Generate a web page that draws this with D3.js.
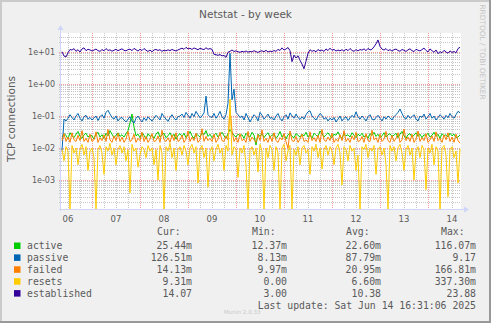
<!DOCTYPE html>
<html>
<head>
<meta charset="utf-8">
<script src="https://cdn.jsdelivr.net/npm/d3@7/dist/d3.min.js"></script>
<style>
  html, body { margin: 0; padding: 0; background: #F0F0F0; }
  svg { display: block; }
</style>
</head>
<body>
<svg id="chart" width="491" height="323"></svg>
<script>
// Netstat weekly graph: TCP connection rates, hourly samples (connections/s).
// Small series are stored in milli-units (as shown in the legend), established in plain units.

const seriesNames = ["active", "passive", "failed", "resets", "established"];
const seriesColors = ["#00CC00", "#0066B3", "#FF8000", "#FFCC00", "#330099"];

const activeMilli = [
  22, 28, 25, 19, 30, 24, 21, 27, 33, 23, 20, 26, 29, 22, 25,
  24, 19, 28, 31, 22, 26, 20, 29, 24, 35, 27, 21, 25, 30, 23,
  26, 22, 28, 35, 60, 116.07, 45, 24, 27, 21, 30, 25, 19, 28, 23,
  25, 20, 27, 32, 22, 26, 29, 21, 24, 30, 22, 27, 19, 25, 28,
  23, 29, 21, 26, 33, 24, 20, 28, 25, 22, 30, 26, 35, 23, 27,
  21, 25, 29, 22, 26, 31, 24, 20, 28, 38, 30, 25, 22, 27, 24,
  26, 20, 29, 24, 22, 31, 25, 12.37, 27, 23, 28, 21, 26, 30, 22,
  25, 28, 20, 24, 33, 22, 27, 19, 26, 29, 23, 21, 28, 25, 22,
  27, 24, 31, 22, 26, 20, 29, 25, 23, 34, 28, 22, 26, 30, 24,
  21, 27, 25, 32, 23, 20, 28, 24, 26, 22, 30, 25, 21, 27, 24,
  29, 22, 26, 20, 28, 25, 31, 23, 27, 21, 24, 30, 22, 26, 28,
  23, 25, 29, 21, 27, 33, 24, 20, 26, 28, 22, 25, 30, 23, 27,
  21, 26, 24, 29, 22, 25, 31, 23, 27, 20, 28, 24, 26, 22, 29,
  24, 27, 21, 22, 25.44
];

const passiveMilli = [
  8.13, 80, 70, 85, 110, 90, 75, 100, 120, 85, 70, 95, 105, 80, 90,
  75, 88, 100, 72, 95, 110, 85, 130, 150, 115, 90, 80, 100, 70, 85,
  90, 75, 65, 80, 95, 70, 60, 85, 100, 78, 65, 88, 72, 95, 80,
  70, 85, 105, 90, 75, 120, 95, 80, 68, 90, 110, 85, 75, 95, 100,
  115, 90, 130, 105, 85, 120, 95, 140, 110, 88, 100, 125, 420, 110, 95,
  90, 120, 85, 105, 140, 95, 80, 110, 250, 9170, 320, 690, 130, 110, 90,
  100, 75, 120, 90, 65, 85, 110, 95, 70, 130, 105, 80, 95, 115, 85,
  90, 75, 100, 120, 85, 70, 95, 110, 80, 125, 100, 85, 115, 90, 78,
  95, 80, 110, 135, 145, 100, 85, 75, 95, 120, 105, 80, 90, 70, 85,
  75, 90, 65, 80, 100, 70, 85, 95, 72, 88, 105, 90, 135, 95, 80,
  100, 85, 70, 95, 110, 80, 75, 90, 105, 85, 70, 95, 80, 100, 88,
  75, 95, 110, 130, 165, 120, 90, 80, 105, 85, 95, 110, 80, 70, 100,
  90, 115, 80, 95, 120, 85, 100, 75, 90, 110, 95, 80, 105, 88, 120,
  95, 85, 110, 140, 126.51
];

const failedMilli = [
  17, 28, 16, 22, 15, 30, 18, 16, 25, 17, 35, 16, 20, 15, 27,
  16, 18, 32, 15, 21, 17, 26, 16, 38, 18, 15, 24, 17, 29, 16,
  22, 15, 19, 33, 16, 18, 27, 15, 20, 17, 31, 16, 23, 15, 19,
  28, 16, 17, 24, 15, 36, 18, 16, 21, 15, 26, 17, 30, 16, 18,
  25, 15, 19, 34, 16, 22, 17, 29, 15, 18, 40, 16, 23, 17, 20,
  16, 27, 15, 19, 31, 17, 16, 24, 18, 166.81, 35, 16, 21, 15, 28,
  17, 19, 15, 33, 16, 22, 18, 15, 26, 17, 37, 16, 20, 15, 24,
  16, 30, 17, 15, 21, 18, 28, 16, 9.97, 34, 17, 16, 23, 15, 19,
  27, 16, 18, 15, 32, 17, 21, 16, 25, 15, 38, 18, 16, 22, 17,
  29, 15, 19, 16, 26, 17, 35, 16, 20, 15, 24, 18, 31, 16, 17,
  23, 15, 28, 17, 16, 36, 18, 21, 15, 27, 16, 19, 33, 17, 15,
  25, 16, 20, 30, 15, 18, 39, 17, 22, 16, 27, 15, 19, 34, 16,
  21, 17, 28, 15, 18, 24, 16, 32, 17, 20, 15, 26, 18, 30, 16,
  22, 15, 27, 17, 14.13
];

const resetsMilli = [
  9, 4, 11, 8, 0, 12, 7, 10, 3, 9, 13, 6, 11, 2, 8,
  10, 5, 0, 9, 12, 7, 1.5, 11, 8, 14, 6, 10, 3, 9, 12,
  7, 11, 4, 9, 0.4, 13, 8, 10, 2.5, 6, 11, 9, 5, 12, 8,
  10, 3, 9, 1, 12, 7, 0, 11, 8, 14, 5, 10, 2, 9, 11,
  6, 12, 8, 3, 10, 13, 7, 11, 0.8, 9, 12, 5, 10, 0.6, 8,
  11, 4, 9, 13, 7, 10, 2, 12, 8, 337.3, 6, 11, 9, 1.2, 10,
  7, 12, 3, 0, 9, 11, 6, 10, 1.8, 13, 8, 0, 10, 5, 12,
  9, 2, 11, 7, 0, 10, 13, 4, 8, 12, 0, 9, 6, 11, 3,
  10, 12, 7, 9, 1.5, 11, 8, 13, 5, 10, 2.2, 9, 12, 6, 11,
  8, 3, 10, 13, 7, 0.7, 11, 9, 4, 12, 8, 10, 2, 6, 0,
  11, 9, 13, 5, 10, 8, 12, 1.5, 9, 11, 6, 10, 3, 0, 12,
  8, 11, 4, 10, 13, 7, 2, 9, 12, 6, 10, 1, 8, 11, 5,
  12, 9, 0.5, 10, 7, 13, 3, 11, 8, 0, 10, 12, 6, 0.3, 9,
  11, 5, 8, 0.8, 9.31
];

const established = [
  10.2, 7.5, 7.0, 9.5, 12.0, 11.5, 12.8, 10.5, 11.8, 10.0,
  12.5, 13.5, 11.0, 12.2, 11.6, 10.8, 11.5, 12.4, 11.0, 10.5,
  11.9, 10.9, 12.8, 11.2, 11.7, 10.6, 11.4, 12.1, 11.0, 11.8,
  12.6, 11.3, 10.9, 11.9, 12.3, 11.0, 13.0, 11.8, 10.7, 12.2,
  11.1, 12.9, 11.4, 10.4, 11.5, 10.2, 11.6, 12.0, 11.2, 11.8,
  10.5, 11.4, 10.9, 11.7, 11.1, 12.0, 11.3, 10.8, 11.6, 12.4,
  13.2, 12.1, 14.0, 12.5, 13.1, 12.0, 13.4, 12.6, 11.8, 13.0,
  12.4, 11.9, 13.6, 12.2, 12.8, 12.1, 8.5, 8.2, 7.9, 8.3,
  7.6, 7.8, 6.8, 9.8, 10.5, 11.6, 10.4, 10.9, 10.2, 9.8,
  10.5, 10.0, 10.8, 9.9, 10.4, 10.1, 11.0, 10.3, 9.7, 10.6,
  10.9, 10.2, 11.3, 10.0, 10.7, 10.3, 11.1, 10.5, 12.0, 11.2,
  13.5, 11.5, 12.4, 13.8, 11.0, 5.0, 8.0, 6.5, 7.6, 5.5,
  4.2, 3.0, 5.2, 9.0, 11.8, 10.5, 11.2, 10.1, 12.0, 10.8,
  11.6, 10.4, 12.5, 11.1, 13.2, 11.3, 12.1, 10.7, 11.5, 10.9,
  11.8, 10.6, 12.3, 11.0, 12.9, 11.2, 10.5, 11.9, 10.8, 12.0,
  11.4, 12.6, 11.0, 13.0, 11.6, 12.2, 14.5, 18.0, 23.88, 15.0,
  12.3, 11.5, 12.8, 11.0, 11.9, 10.7, 11.8, 12.4, 11.1, 10.6,
  12.0, 11.3, 10.4, 11.7, 12.6, 11.0, 10.3, 12.2, 11.4, 10.8,
  11.9, 13.3, 11.2, 10.1, 12.5, 11.0, 9.8, 11.6, 8.9, 10.2,
  9.5, 11.3, 10.0, 9.2, 10.8, 9.7, 10.4, 9.4, 12.8, 14.07
];

// Legend statistics (Cur, Min, Avg, Max) per series
const legendCur = ["25.44m", "126.51m", "14.13m", "9.31m", "14.07"];
const legendMin = ["12.37m", "8.13m", "9.97m", "0.00", "3.00"];
const legendAvg = ["22.60m", "87.79m", "20.95m", "6.60m", "10.38"];
const legendMax = ["116.07m", "9.17", "166.81m", "337.30m", "23.88"];

const yTicks = [10, 1, 0.1, 0.01, 0.001];
const yTickLabels = ["1e+01", "1e+00", "1e-01", "1e-02", "1e-03"];
const dayLabels = ["06", "07", "08", "09", "10", "11", "12", "13", "14"];

const titleText = "Netstat - by week";
const yTitle = "TCP connections";
const lastUpdate = "Last update: Sat Jun 14 16:31:06 2025";

// ---- layout ----
const W = 491, H = 323;
const plot = { left: 61, top: 33, right: 461, bottom: 209 };
const endTime = Date.UTC(2025, 5, 14, 16, 30);
const startTime = endTime - 200 * 3600e3;

const svg = d3.select("#chart");
const fontSans = "'DejaVu Sans', 'Liberation Sans', sans-serif";
const fontMono = "'DejaVu Sans Mono', 'Liberation Mono', monospace";
const textColor = "#5a5a5a";

// background and 3D frame
svg.append("rect").attr("width", W).attr("height", H).attr("fill", "#F0F0F0");
svg.append("path").attr("d", `M0,${H} V0 H${W}`).attr("stroke", "#CBCBCB").attr("stroke-width", 2).attr("fill", "none")
  .attr("transform", "translate(1,1)");
svg.append("path").attr("d", `M${W - 1},0 V${H - 1} H0`).attr("stroke", "#999999").attr("stroke-width", 2).attr("fill", "none");

// canvas
svg.append("rect")
  .attr("x", plot.left).attr("y", plot.top)
  .attr("width", plot.right - plot.left).attr("height", plot.bottom - plot.top)
  .attr("fill", "#FFFFFF");

const x = d3.scaleUtc().domain([startTime, endTime]).range([plot.left, plot.right]);
const yDomain = [1.24e-4, 39.3];
const y = d3.scaleLog().domain(yDomain).range([plot.bottom, plot.top]).clamp(true);

const grid = svg.append("g").attr("shape-rendering", "crispEdges");

// horizontal log grid: decades (major) and 2..9 multiples (minor)
const minorYs = [], majorYs = [];
for (let k = -4; k <= 1; k++) {
  for (let m = 1; m <= 9; m++) {
    const v = m * Math.pow(10, k);
    if (v < yDomain[0] || v > yDomain[1]) continue;
    (m === 1 ? majorYs : minorYs).push(v);
  }
}
grid.selectAll(".ymin").data(minorYs).join("line")
  .attr("x1", plot.left - 2).attr("x2", plot.right)
  .attr("y1", d => Math.round(y(d)) + 0.5).attr("y2", d => Math.round(y(d)) + 0.5)
  .attr("stroke", "#c6c6c6").attr("stroke-dasharray", "1,1");

// vertical grid: every 6 h minor, midnight major
const sixHours = d3.utcHour.every(6).range(new Date(startTime), new Date(endTime));
const minorXs = sixHours.filter(d => d.getUTCHours() !== 0);
const majorXs = sixHours.filter(d => d.getUTCHours() === 0);
grid.selectAll(".xmin").data(minorXs).join("line")
  .attr("x1", d => Math.round(x(d)) + 0.5).attr("x2", d => Math.round(x(d)) + 0.5)
  .attr("y1", plot.top).attr("y2", plot.bottom + 2)
  .attr("stroke", "#c6c6c6").attr("stroke-dasharray", "1,1");

grid.selectAll(".ymaj").data(majorYs).join("line")
  .attr("x1", plot.left - 2).attr("x2", plot.right)
  .attr("y1", d => Math.round(y(d)) + 0.5).attr("y2", d => Math.round(y(d)) + 0.5)
  .attr("stroke", "#F29A9A").attr("stroke-dasharray", "1,1");
grid.selectAll(".xmaj").data(majorXs).join("line")
  .attr("x1", d => Math.round(x(d)) + 0.5).attr("x2", d => Math.round(x(d)) + 0.5)
  .attr("y1", plot.top).attr("y2", plot.bottom + 2)
  .attr("stroke", "#F29A9A").attr("stroke-dasharray", "1,1");

// data lines
const times = activeMilli.map((_, i) => new Date(startTime + (i + 0.5) * (endTime - startTime) / activeMilli.length));
const seriesValues = [
  activeMilli.map(v => v / 1000),
  passiveMilli.map(v => v / 1000),
  failedMilli.map(v => v / 1000),
  resetsMilli.map(v => v / 1000),
  established
];

svg.append("clipPath").attr("id", "canvasClip").append("rect")
  .attr("x", plot.left).attr("y", plot.top)
  .attr("width", plot.right - plot.left).attr("height", plot.bottom - plot.top);

const line = d3.line()
  .x((d, i) => x(times[i]))
  .y(d => y(Math.max(d, yDomain[0])));

const lines = svg.append("g").attr("clip-path", "url(#canvasClip)");
seriesValues.forEach((vals, s) => {
  lines.append("path")
    .attr("d", line(vals))
    .attr("fill", "none")
    .attr("stroke", seriesColors[s])
    .attr("stroke-width", 1)
    .attr("stroke-linejoin", "miter");
});

// axes (light blue) with arrows
const axisColor = "#CFD6F8";
svg.append("line").attr("x1", plot.left - 0.5).attr("x2", plot.left - 0.5)
  .attr("y1", plot.bottom + 2).attr("y2", plot.top - 4)
  .attr("stroke", axisColor).attr("stroke-width", 1);
svg.append("line").attr("x1", plot.left - 2).attr("x2", plot.right + 4)
  .attr("y1", plot.bottom + 0.5).attr("y2", plot.bottom + 0.5)
  .attr("stroke", axisColor).attr("stroke-width", 1);
svg.append("path")
  .attr("d", `M${plot.left - 3.5},${plot.top - 3} L${plot.left + 2.5},${plot.top - 3} L${plot.left - 0.5},${plot.top - 8} Z`)
  .attr("fill", axisColor);
svg.append("path")
  .attr("d", `M${plot.right + 3},${plot.bottom - 2.5} L${plot.right + 3},${plot.bottom + 3.5} L${plot.right + 8},${plot.bottom + 0.5} Z`)
  .attr("fill", axisColor);

// y tick labels
svg.selectAll(".ylab").data(yTicks).join("text")
  .attr("x", 55).attr("y", d => y(d) + 3)
  .attr("text-anchor", "end")
  .attr("font-family", fontSans).attr("font-size", 8)
  .attr("fill", textColor)
  .text((d, i) => yTickLabels[i]);

// x tick labels at noon of each day
const noonDays = dayLabels.map((lab, i) => Date.UTC(2025, 5, 6 + i, 12));
svg.selectAll(".xlab").data(noonDays).join("text")
  .attr("x", d => x(d)).attr("y", 221.5)
  .attr("text-anchor", "middle")
  .attr("font-family", fontSans).attr("font-size", 8.5)
  .attr("fill", textColor)
  .text((d, i) => dayLabels[i]);

// title
svg.append("text").attr("x", 245.5).attr("y", 18)
  .attr("text-anchor", "middle")
  .attr("font-family", fontSans).attr("font-size", 10.5)
  .attr("fill", textColor).text(titleText);

// vertical axis title
svg.append("text")
  .attr("transform", "translate(15,119) rotate(-90)")
  .attr("text-anchor", "middle")
  .attr("font-family", fontSans).attr("font-size", 10.5)
  .attr("fill", textColor).text(yTitle);

// watermark
svg.append("text")
  .attr("transform", "translate(479.5,52) rotate(90)")
  .attr("text-anchor", "middle")
  .attr("font-family", fontSans).attr("font-size", 7.4)
  .attr("fill", "#c4c4c4").text("RRDTOOL / TOBI OETIKER");

// legend
const legend = svg.append("g").attr("font-family", fontMono).attr("font-size", 9.8).attr("fill", textColor);
const headerY = 235;
const rowY0 = 249, rowStep = 11.9;
const cols = [
  { head: "Cur:", hx: 157, vx: 192, vals: legendCur },
  { head: "Min:", hx: 252, vx: 287, vals: legendMin },
  { head: "Avg:", hx: 346, vx: 381, vals: legendAvg },
  { head: "Max:", hx: 441, vx: 476, vals: legendMax }
];
cols.forEach(c => {
  legend.append("text").attr("x", c.hx).attr("y", headerY).text(c.head);
  c.vals.forEach((v, i) => {
    legend.append("text").attr("x", c.vx).attr("y", rowY0 + i * rowStep)
      .attr("text-anchor", "end").text(v);
  });
});
seriesNames.forEach((name, i) => {
  legend.append("rect").attr("x", 14).attr("y", rowY0 + i * rowStep - 6.5)
    .attr("width", 6.5).attr("height", 6.5).attr("fill", seriesColors[i]);
  legend.append("text").attr("x", 27).attr("y", rowY0 + i * rowStep).text(name);
});
legend.append("text").attr("x", 476).attr("y", 308.5).attr("text-anchor", "end").text(lastUpdate);

svg.append("text").attr("x", 224).attr("y", 313.5)
  .attr("font-family", fontSans).attr("font-size", 5.6)
  .attr("fill", "#c8c8c8").text("Munin 2.0.33");
</script>
</body>
</html>
